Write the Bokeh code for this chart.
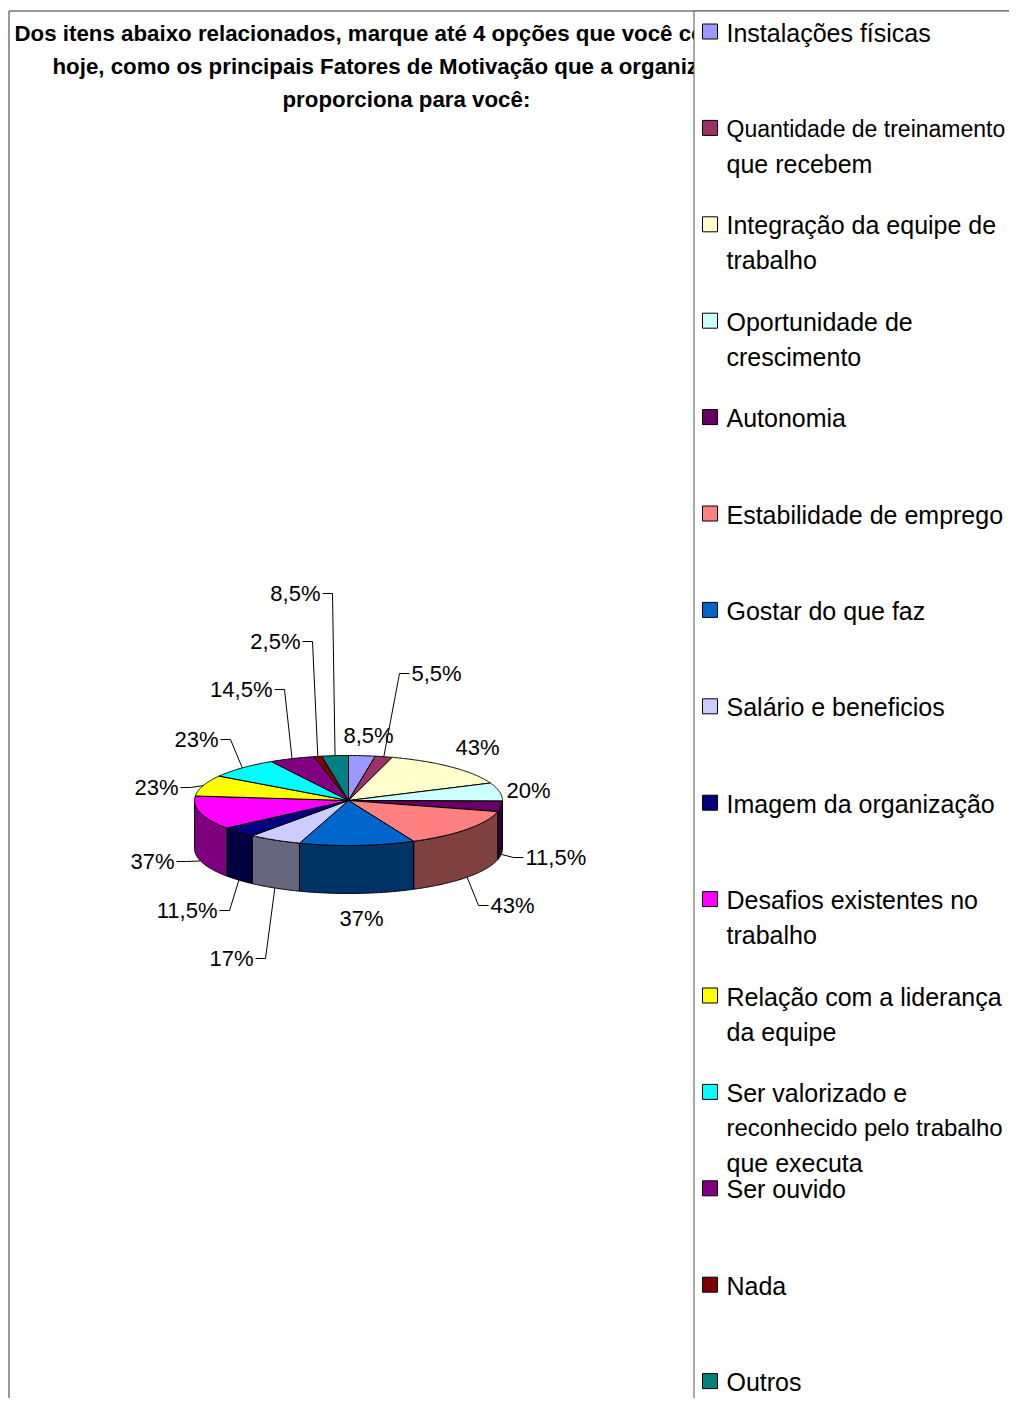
import numpy as np
from bokeh.plotting import figure
from bokeh.models import Range1d, ColumnDataSource
from bokeh.core.properties import value
from bokeh.embed import file_html
from bokeh.resources import INLINE

# ---------------- data ----------------
categories = [
    "Instalações físicas",
    "Quantidade de treinamento\nque recebem",
    "Integração da equipe de\ntrabalho",
    "Oportunidade de\ncrescimento",
    "Autonomia",
    "Estabilidade de emprego",
    "Gostar do que faz",
    "Salário e beneficios",
    "Imagem da organização",
    "Desafios existentes no\ntrabalho",
    "Relação com a liderança\nda equipe",
    "Ser valorizado e\nreconhecido pelo trabalho\nque executa",
    "Ser ouvido",
    "Nada",
    "Outros",
]
values = [8.5, 5.5, 43, 20, 11.5, 43, 37, 17, 11.5, 37, 23, 23, 14.5, 2.5, 8.5]
colors = ["#9999FF", "#993366", "#FFFFCC", "#CCFFFF", "#660066", "#FF8080",
          "#0066CC", "#CCCCFF", "#000080", "#FF00FF", "#FFFF00", "#00FFFF",
          "#800080", "#800000", "#008080"]
title_lines = [
    "Dos itens abaixo relacionados, marque até 4 opções que você considera,",
    "hoje, como os principais Fatores de Motivação que a organização",
    "proporciona para você:",
]

# ---------------- layout (positions of data labels, pixels) ----------------
label_layout = [("c", 368, 735), ("l", 411, 673), ("c", 477, 747), ("c", 528, 790),
                ("l", 525, 857), ("l", 490, 905), ("c", 361, 918), ("r", 253, 958),
                ("r", 217, 910), ("r", 174, 861), ("r", 178, 787), ("r", 218, 739),
                ("r", 272, 689), ("r", 300, 641), ("r", 320, 593)]
title_x = [14, 52, 282]
title_y = [33, 66, 99]
# legend lines that must be a little smaller to stay inside the page
legend_size_override = {"Quantidade de treinamento": "23px",
                        "reconhecido pelo trabalho": "24px"}

FONT = value("Liberation Sans")
CX, CY, RX, RY, DEPTH = 348, 800, 154, 45, 48

W, H = 1009, 1398
p = figure(width=W, height=H, x_range=Range1d(0, W), y_range=Range1d(H, 0),
           output_backend="svg", toolbar_location=None, min_border=0,
           x_axis_type=None, y_axis_type=None)
p.grid.visible = False
p.outline_line_color = None
p.background_fill_color = "white"


def darken(c):
    r, g, b = int(c[1:3], 16), int(c[3:5], 16), int(c[5:7], 16)
    return "#%02x%02x%02x" % (r // 2, g // 2, b // 2)


def ell(t_deg, dy=0.0):
    t = np.radians(t_deg)
    return CX + RX * np.sin(t), CY - RY * np.cos(t) + dy


total = float(sum(values))
cum = np.concatenate([[0.0], np.cumsum(values)]) / total * 360.0
n = len(values)

# side walls (front half)
sx, sy, sc = [], [], []
for i in range(n):
    a, b = max(cum[i], 90.0), min(cum[i + 1], 270.0)
    if b > a:
        ts = np.linspace(a, b, int((b - a) * 2) + 2)
        x1, y1 = ell(ts)
        x2, y2 = ell(ts[::-1], DEPTH)
        sx.append(list(x1) + list(x2))
        sy.append(list(y1) + list(y2))
        sc.append(darken(colors[i]))
p.patches(sx, sy, fill_color=sc, line_color="black", line_width=1)

# top faces
tx, ty = [], []
for i in range(n):
    ts = np.linspace(cum[i], cum[i + 1], int((cum[i + 1] - cum[i]) * 2) + 2)
    x, y = ell(ts)
    tx.append([CX] + list(x))
    ty.append([CY] + list(y))
p.patches(tx, ty, fill_color=colors, line_color="black", line_width=1)

# data labels and leader lines
lx, ly = [], []
texts = {"l": ([], [], []), "r": ([], [], []), "c": ([], [], [])}
for i in range(n):
    al, x, y = label_layout[i]
    txt = ("%g%%" % values[i]).replace(".", ",")
    texts[al][0].append(x)
    texts[al][1].append(y)
    texts[al][2].append(txt)
    if al == "c":
        continue
    mid = (cum[i] + cum[i + 1]) / 2
    ax, ay = ell(mid, DEPTH if 90 < mid < 270 else 0.0)
    d = -1 if al == "l" else 1
    lx.append([x + 2 * d, x + 12 * d, float(ax)])
    ly.append([y, y, float(ay)])
p.multi_line(lx, ly, line_color="black", line_width=1)
for al, name in (("l", "left"), ("r", "right"), ("c", "center")):
    xs, ys, tt = texts[al]
    p.text(xs, ys, text=tt, text_align=name, text_baseline="middle",
           text_font=FONT, text_font_size="22px", text_color="black")

# title
p.text(title_x, title_y, text=title_lines, text_align="left",
       text_baseline="middle", text_font=FONT, text_font_size="22.3px",
       text_font_style="bold", text_color="black")

# outer frame
p.multi_line([[8.5, 8.5, 1100]], [[1500, 10.5, 10.5]], line_color="#333333", line_width=1)

# legend box (covers the overflowing title)
p.quad(left=[693.5], right=[1100], top=[10.5], bottom=[1500],
       fill_color="white", line_color="#555555", line_width=1)

LEG_Y0, LEG_STEP, LINE_H = 32, 96.4, 35
sq_x, sq_y, leg_x, leg_y, leg_t, leg_s = [], [], [], [], [], []
for i, cat in enumerate(categories):
    y0 = LEG_Y0 + i * LEG_STEP
    sq_x.append(709.5)
    sq_y.append(y0 - 1)
    for k, line in enumerate(cat.split("\n")):
        leg_x.append(726)
        leg_y.append(y0 + k * LINE_H)
        leg_t.append(line)
        leg_s.append(legend_size_override.get(line, "25px"))
p.rect(sq_x, sq_y, width=15, height=15, fill_color=colors, line_color="black", line_width=1)
leg_src = ColumnDataSource(dict(x=leg_x, y=leg_y, t=leg_t, s=leg_s))
p.text("x", "y", text="t", text_font_size="s", source=leg_src, text_align="left",
       text_baseline="middle", text_font=FONT, text_color="black")

open("out.html", "w").write(file_html(p, INLINE))
